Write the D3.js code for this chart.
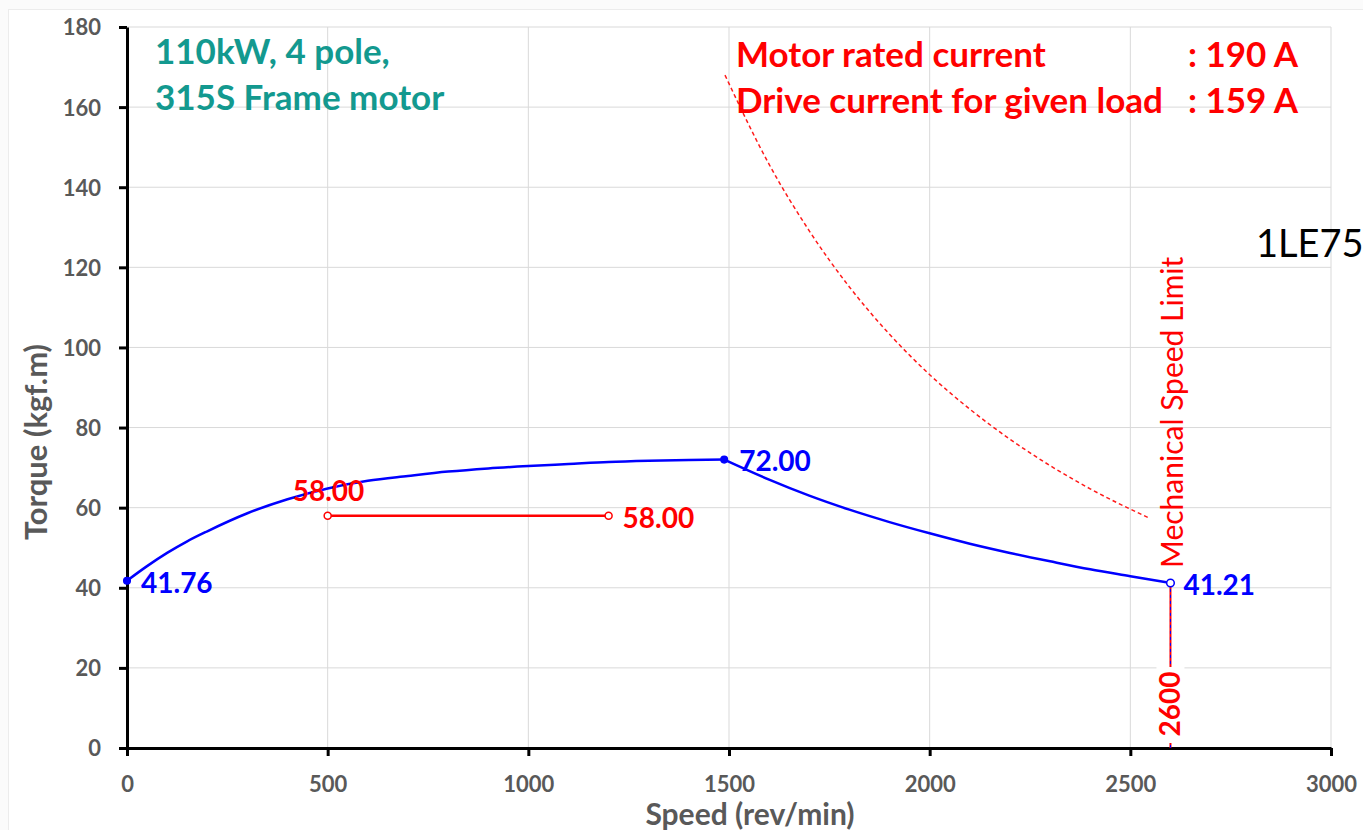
<!DOCTYPE html>
<html>
<head>
<meta charset="utf-8">
<script src="https://cdn.jsdelivr.net/npm/d3@7"></script>
<style>
  html, body { margin: 0; padding: 0; background: #ffffff; }
  svg { display: block; }
  text { font-family: Lato, "Open Sans", sans-serif; }
</style>
</head>
<body>
<svg id="chart" width="1363" height="830"></svg>
<script>
// Torque-speed envelope of the motor (kgf.m vs rev/min)
const riseSpeed  = [0, 50, 100, 150, 200, 300, 400, 500, 600, 700, 800, 900, 1000, 1100, 1200, 1300, 1400, 1488];
const riseTorque = [41.76, 45.4, 48.7, 51.6, 54.1, 58.6, 62.1, 64.8, 66.7, 67.9, 69.0, 69.8, 70.4, 70.9, 71.4, 71.7, 71.9, 72.00];
const fallSpeed  = [1488, 1600, 1700, 1800, 1900, 2000, 2100, 2200, 2300, 2400, 2500, 2600];
const fallTorque = [72.00, 67.0, 63.0, 59.5, 56.4, 53.6, 51.0, 48.7, 46.6, 44.6, 42.9, 41.21];

// Current-limit boundary (dashed)
const limitSpeed  = [1490, 1600, 1700, 1800, 1900, 2000, 2100, 2200, 2300, 2400, 2545];
const limitTorque = [168, 145.7, 129.1, 115.1, 103.3, 93.2, 84.6, 77.1, 70.5, 64.7, 57.5];

// Load requirement
const loadSpeed  = [500, 1200];
const loadTorque = [58.00, 58.00];

// Mechanical speed limit
const mechSpeed  = [2600, 2600];
const mechTorque = [41.21, 0];

// Axis ticks
const xTicks = [0, 500, 1000, 1500, 2000, 2500, 3000];
const yTicks = [0, 20, 40, 60, 80, 100, 120, 140, 160, 180];

const titleLines = ["110kW, 4 pole,", "315S Frame motor"];
const currentLabels = ["Motor rated current", "Drive current for given load"];
const currentValues = [": 190 A", ": 159 A"];

const svg = d3.select("#chart");
const W = 1363, H = 830;

// faint outer frame
svg.append("rect").attr("x", 0).attr("y", 0).attr("width", W).attr("height", H).attr("fill", "#fbfbfb");
svg.append("rect").attr("x", 8.5).attr("y", 9.5).attr("width", W).attr("height", H)
  .attr("fill", "#ffffff").attr("stroke", "#ececec").attr("stroke-width", 1);

const x = d3.scaleLinear().domain([0, 3000]).range([127, 1331]);
const y = d3.scaleLinear().domain([0, 180]).range([748, 27]);

// grid
const grid = svg.append("g");
grid.selectAll("line.h").data(yTicks.filter(d => d > 0)).join("line")
  .attr("x1", x(0)).attr("x2", x(3000))
  .attr("y1", d => y(d)).attr("y2", d => y(d))
  .attr("stroke", "#d9d9d9").attr("stroke-width", 1);
grid.selectAll("line.v").data(xTicks.filter(d => d > 0)).join("line")
  .attr("x1", d => x(d)).attr("x2", d => x(d))
  .attr("y1", y(0)).attr("y2", y(180))
  .attr("stroke", "#d9d9d9").attr("stroke-width", 1);

// axes
const xAxis = d3.axisBottom(x).tickValues(xTicks).tickFormat(d3.format("d"))
  .tickSizeInner(8).tickSizeOuter(0).tickPadding(20);
const yAxis = d3.axisLeft(y).tickValues(yTicks).tickFormat(d3.format("d"))
  .tickSizeInner(8).tickSizeOuter(0).tickPadding(18);

const gx = svg.append("g").attr("transform", `translate(0,${y(0)})`).call(xAxis);
const gy = svg.append("g").attr("transform", `translate(${x(0)},0)`).call(yAxis);
[gx, gy].forEach(g => {
  g.select(".domain").attr("stroke", "#000").attr("stroke-width", 3);
  g.selectAll(".tick line").attr("stroke", "#000").attr("stroke-width", 3);
  g.selectAll(".tick text").attr("fill", "#595959").attr("font-size", 22)
    .attr("font-weight", 700).attr("font-family", "Lato, sans-serif");
});
gy.selectAll(".tick text").attr("dy", "0.36em");

// axis titles
svg.append("text").attr("x", 750).attr("y", 825).attr("text-anchor", "middle")
  .attr("fill", "#595959").attr("font-size", 30).attr("font-weight", 700)
  .text("Speed (rev/min)");
svg.append("text").attr("transform", "translate(47,442) rotate(-90)").attr("text-anchor", "middle")
  .attr("fill", "#595959").attr("font-size", 31).attr("font-weight", 700)
  .text("Torque (kgf.m)");

const smooth = d3.line().x(d => x(d[0])).y(d => y(d[1])).curve(d3.curveMonotoneX);
const straight = d3.line().x(d => x(d[0])).y(d => y(d[1]));

// dashed current-limit curve
svg.append("path").datum(d3.zip(limitSpeed, limitTorque))
  .attr("d", smooth).attr("fill", "none").attr("stroke", "#ff1a1a")
  .attr("stroke-width", 1.5).attr("stroke-dasharray", "4,3");

// mechanical speed limit line (red with blue dashes)
const mechPts = d3.zip(mechSpeed, mechTorque);
svg.append("path").datum(mechPts).attr("d", straight)
  .attr("stroke", "#ff0000").attr("stroke-width", 2).attr("fill", "none");
svg.append("path").datum(mechPts).attr("d", straight)
  .attr("stroke", "#0000ff").attr("stroke-width", 1).attr("stroke-dasharray", "3,3").attr("fill", "none");

// motor envelope: rising section, then constant-power fall
[d3.zip(riseSpeed, riseTorque), d3.zip(fallSpeed, fallTorque)].forEach(pts => {
  svg.append("path").datum(pts).attr("d", smooth)
    .attr("fill", "none").attr("stroke", "#0000ff").attr("stroke-width", 2.5)
    .attr("stroke-linejoin", "round");
});

// load line
const loadPts = d3.zip(loadSpeed, loadTorque);
svg.append("path").datum(loadPts).attr("d", straight)
  .attr("stroke", "#ff0000").attr("stroke-width", 2.5).attr("fill", "none");
svg.selectAll("circle.load").data(loadPts).join("circle")
  .attr("cx", d => x(d[0])).attr("cy", d => y(d[1])).attr("r", 3.5)
  .attr("fill", "#fff").attr("stroke", "#ff0000").attr("stroke-width", 1.5);

// envelope markers
const peakIdx = riseSpeed.length - 1;
const lastIdx = fallSpeed.length - 1;
const markers = [
  { s: riseSpeed[0], t: riseTorque[0], open: false },
  { s: riseSpeed[peakIdx], t: riseTorque[peakIdx], open: false },
  { s: fallSpeed[lastIdx], t: fallTorque[lastIdx], open: true }
];
svg.selectAll("circle.env").data(markers).join("circle")
  .attr("cx", d => x(d.s)).attr("cy", d => y(d.t)).attr("r", d => d.open ? 3.8 : 3.3)
  .attr("fill", d => d.open ? "#fff" : "#0000ff").attr("stroke", "#0000ff").attr("stroke-width", 1.5);

// value labels
const blueLabel = (s, t, dx, dy) => svg.append("text")
  .attr("x", x(s) + dx).attr("y", y(t) + dy)
  .attr("fill", "#0000ff").attr("font-size", 28).attr("font-weight", 700)
  .text(t.toFixed(2));
blueLabel(riseSpeed[0], riseTorque[0], 14, 12);
blueLabel(riseSpeed[peakIdx], riseTorque[peakIdx], 15, 11);
blueLabel(fallSpeed[lastIdx], fallTorque[lastIdx], 13, 12);

svg.append("text").attr("x", x(loadSpeed[0]) - 35).attr("y", y(loadTorque[0]) - 15)
  .attr("fill", "#ff0000").attr("font-size", 28).attr("font-weight", 700)
  .text(loadTorque[0].toFixed(2));
svg.append("text").attr("x", x(loadSpeed[1]) + 14).attr("y", y(loadTorque[1]) + 12)
  .attr("fill", "#ff0000").attr("font-size", 28).attr("font-weight", 700)
  .text(loadTorque[1].toFixed(2));

// speed-limit value label
const mx = x(mechSpeed[0]);
svg.append("rect").attr("x", mx - 14).attr("y", 667).attr("width", 28).attr("height", 76).attr("fill", "#fff");
svg.append("text").attr("transform", `translate(${mx + 10},704) rotate(-90)`)
  .attr("text-anchor", "middle").attr("fill", "#ff0000").attr("font-size", 28).attr("font-weight", 700)
  .text(String(mechSpeed[0]));

svg.append("text").attr("transform", `translate(${mx + 13},568) rotate(-90)`)
  .attr("fill", "#ff0000").attr("font-size", 30).attr("font-weight", 400)
  .text("Mechanical Speed Limit");

// headings
svg.selectAll("text.title").data(titleLines).join("text")
  .attr("x", 155).attr("y", (d, i) => 64 + i * 46)
  .attr("fill", "#13998f").attr("font-size", 35).attr("font-weight", 700)
  .text(d => d);

svg.selectAll("text.cur").data(currentLabels).join("text")
  .attr("x", 736).attr("y", (d, i) => 67 + i * 46)
  .attr("fill", "#ff0000").attr("font-size", 35).attr("font-weight", 700)
  .text(d => d);
svg.selectAll("text.curv").data(currentValues).join("text")
  .attr("x", 1298).attr("y", (d, i) => 67 + i * 46).attr("text-anchor", "end")
  .attr("fill", "#ff0000").attr("font-size", 35).attr("font-weight", 700)
  .text(d => d);

svg.append("text").attr("x", 1256).attr("y", 257)
  .attr("fill", "#000").attr("font-size", 38)
  .attr("font-family", "'Liberation Sans', Arial, sans-serif")
  .text("1LE75");
</script>
</body>
</html>
